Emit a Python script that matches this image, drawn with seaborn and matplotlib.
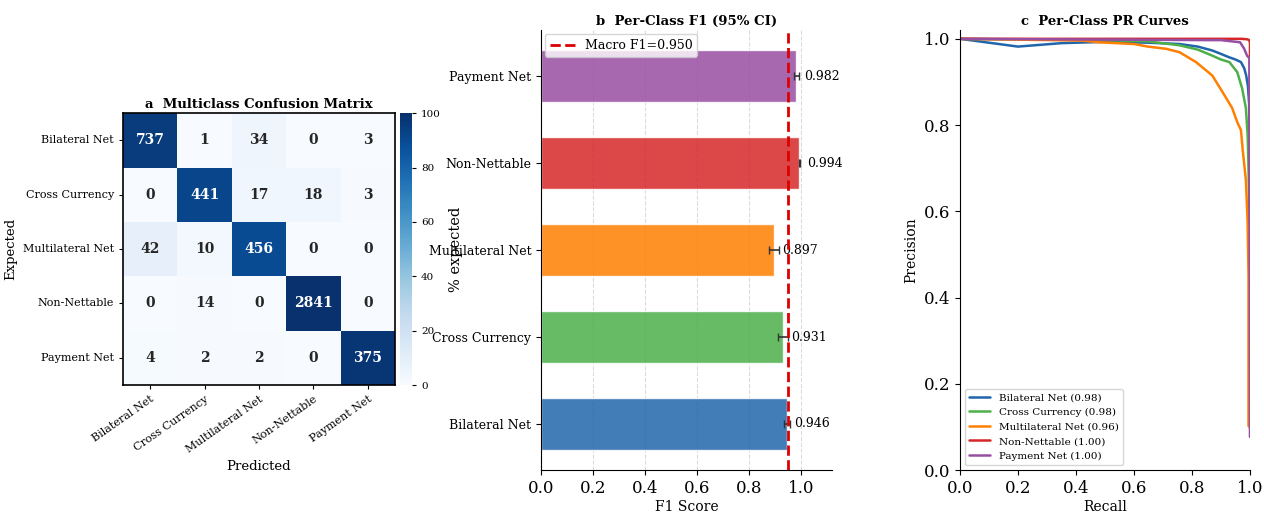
import numpy as np
import pandas as pd
import matplotlib
matplotlib.use("Agg")
import matplotlib.pyplot as plt
import seaborn as sns
from matplotlib.ticker import MultipleLocator

# class names and confusion counts (rows = expected, cols = predicted)
classes = ["Bilateral Net", "Cross Currency", "Multilateral Net", "Non-Nettable", "Payment Net"]
cm_counts = np.array([
    [737, 1, 34, 0, 3],
    [0, 441, 17, 18, 3],
    [42, 10, 456, 0, 0],
    [0, 14, 0, 2841, 0],
    [4, 2, 2, 0, 375],
])

# per-class F1 with 95% CI half widths
f1_scores = [0.946, 0.931, 0.897, 0.994, 0.982]
f1_err = [0.012, 0.018, 0.021, 0.002, 0.010]
macro_f1 = 0.950

# PR curves
pr_ap = [0.98, 0.98, 0.96, 1.00, 1.00]
bil_recall = [0.0, 0.2, 0.35, 0.5, 0.65, 0.757, 0.82, 0.87, 0.9, 0.929, 0.95, 0.969, 0.98, 0.987, 0.993, 0.997, 1.0, 1.0]
bil_prec = [1.0, 0.982, 0.99, 0.993, 0.991, 0.988, 0.982, 0.973, 0.965, 0.957, 0.952, 0.946, 0.932, 0.915, 0.89, 0.85, 0.75, 0.155]
cc_recall = [0.0, 0.5, 0.65, 0.757, 0.82, 0.87, 0.9, 0.929, 0.956, 0.973, 0.986, 0.992, 0.995, 0.998, 1.0]
cc_prec = [1.0, 0.997, 0.994, 0.985, 0.975, 0.961, 0.952, 0.946, 0.923, 0.885, 0.839, 0.776, 0.70, 0.60, 0.096]
ml_recall = [0.0, 0.42, 0.48, 0.6, 0.648, 0.71, 0.757, 0.814, 0.87, 0.905, 0.939, 0.956, 0.969, 0.975, 0.986, 0.992, 0.995, 0.995]
ml_prec = [1.0, 0.996, 0.992, 0.988, 0.982, 0.977, 0.969, 0.946, 0.915, 0.877, 0.839, 0.807, 0.788, 0.742, 0.672, 0.573, 0.45, 0.102]
nn_recall = [0.0, 0.97, 0.99, 0.998, 1.0, 1.0]
nn_prec = [1.0, 1.0, 0.999, 0.997, 0.99, 0.571]
pn_recall = [0.0, 0.862, 0.9, 0.966, 0.98, 0.99, 0.998, 1.0]
pn_prec = [1.0, 0.997, 0.997, 0.992, 0.977, 0.961, 0.955, 0.077]

bar_colors = ["#2166ac", "#4daf4a", "#ff7f00", "#d62728", "#984ea3"]

sns.set_style("ticks")
plt.rcParams["font.family"] = ["DejaVu Serif"]
plt.rcParams.update({"text.color": "black", "axes.labelcolor": "black",
                     "xtick.color": "black", "ytick.color": "black",
                     "axes.edgecolor": "black"})

fig = plt.figure(figsize=(12.64, 5.12), dpi=100)
ax_cm = fig.add_axes([0.0973, 0.248, 0.2152, 0.531])
ax_cb = fig.add_axes([0.3165, 0.248, 0.0095, 0.531])
ax_f1 = fig.add_axes([0.428, 0.082, 0.2302, 0.859])
ax_pr = fig.add_axes([0.7595, 0.082, 0.2294, 0.859])

# --- a: confusion matrix, coloured by row percentage
cm_pct = cm_counts / cm_counts.sum(axis=1, keepdims=True) * 100
sns.heatmap(pd.DataFrame(cm_pct, index=classes, columns=classes), annot=cm_counts, fmt="d",
            cmap="Blues", vmin=0, vmax=100, ax=ax_cm, cbar_ax=ax_cb,
            annot_kws={"fontsize": 10, "fontweight": "bold"})
for s in ax_cm.spines.values():
    s.set_visible(True)
    s.set_linewidth(1.2)
ax_cm.set_title("a  Multiclass Confusion Matrix", fontsize=9.5, fontweight="bold", pad=4)
ax_cm.set_xlabel("Predicted", fontsize=9.5)
ax_cm.set_ylabel("Expected", fontsize=9.5)
ax_cm.tick_params(labelsize=8, length=3)
plt.setp(ax_cm.get_xticklabels(), rotation=35, ha="right", rotation_mode="anchor")
plt.setp(ax_cm.get_yticklabels(), rotation=0)
ax_cb.tick_params(labelsize=7.5, length=3)
ax_cb.set_ylabel("% expected", fontsize=10.5, labelpad=6)

# --- b: per-class F1
f1_df = pd.DataFrame({"cls": classes, "f1": f1_scores, "err": f1_err})
order = classes[::-1]
sns.barplot(data=f1_df, y="cls", x="f1", order=order, hue="cls", hue_order=classes,
            palette=bar_colors, alpha=0.85, saturation=1, width=0.6, legend=False,
            ax=ax_f1, zorder=2)
f1_ord = f1_df.set_index("cls").loc[order]
ax_f1.errorbar(f1_ord["f1"], np.arange(len(order)), xerr=f1_ord["err"], fmt="none",
               ecolor="#333333", elinewidth=1.2, capsize=3, zorder=3)
for i, v in enumerate(f1_ord["f1"]):
    ax_f1.text(v + 0.03, i, f"{v:.3f}", va="center", ha="left", fontsize=9)
ax_f1.axvline(macro_f1, color="#dd0000", ls="--", lw=2, label=f"Macro F1={macro_f1:.3f}", zorder=4)
ax_f1.set_xlim(0, 1.12)
ax_f1.xaxis.set_major_locator(MultipleLocator(0.2))
ax_f1.grid(axis="x", ls="--", color="#cccccc", alpha=0.7, zorder=0)
ax_f1.set_axisbelow(True)
ax_f1.legend(loc="upper left", fontsize=9, borderaxespad=0.3)
ax_f1.set_title("b  Per-Class F1 (95% CI)", fontsize=9.5, fontweight="bold", pad=4)
ax_f1.set_xlabel("F1 Score", fontsize=10, labelpad=2)
ax_f1.set_ylabel("")
ax_f1.tick_params(axis="y", labelsize=9)
ax_f1.tick_params(axis="x", labelsize=12)
sns.despine(ax=ax_f1)

# --- c: PR curves
curves = [(bil_recall, bil_prec), (cc_recall, cc_prec), (ml_recall, ml_prec),
          (nn_recall, nn_prec), (pn_recall, pn_prec)]
for (r, p), name, ap, col in zip(curves, classes, pr_ap, bar_colors):
    sns.lineplot(x=r, y=p, sort=False, estimator=None, color=col, lw=1.8,
                 label=f"{name} ({ap:.2f})", ax=ax_pr)
ax_pr.set_xlim(0, 1)
ax_pr.set_ylim(0, 1.02)
ax_pr.set_title("c  Per-Class PR Curves", fontsize=9.5, fontweight="bold", pad=4)
ax_pr.set_xlabel("Recall", fontsize=10, labelpad=2)
ax_pr.set_ylabel("Precision", fontsize=10)
ax_pr.tick_params(labelsize=12)
ax_pr.legend(loc="lower left", fontsize=7.5)
sns.despine(ax=ax_pr)

fig.savefig("out.png", dpi=100)
